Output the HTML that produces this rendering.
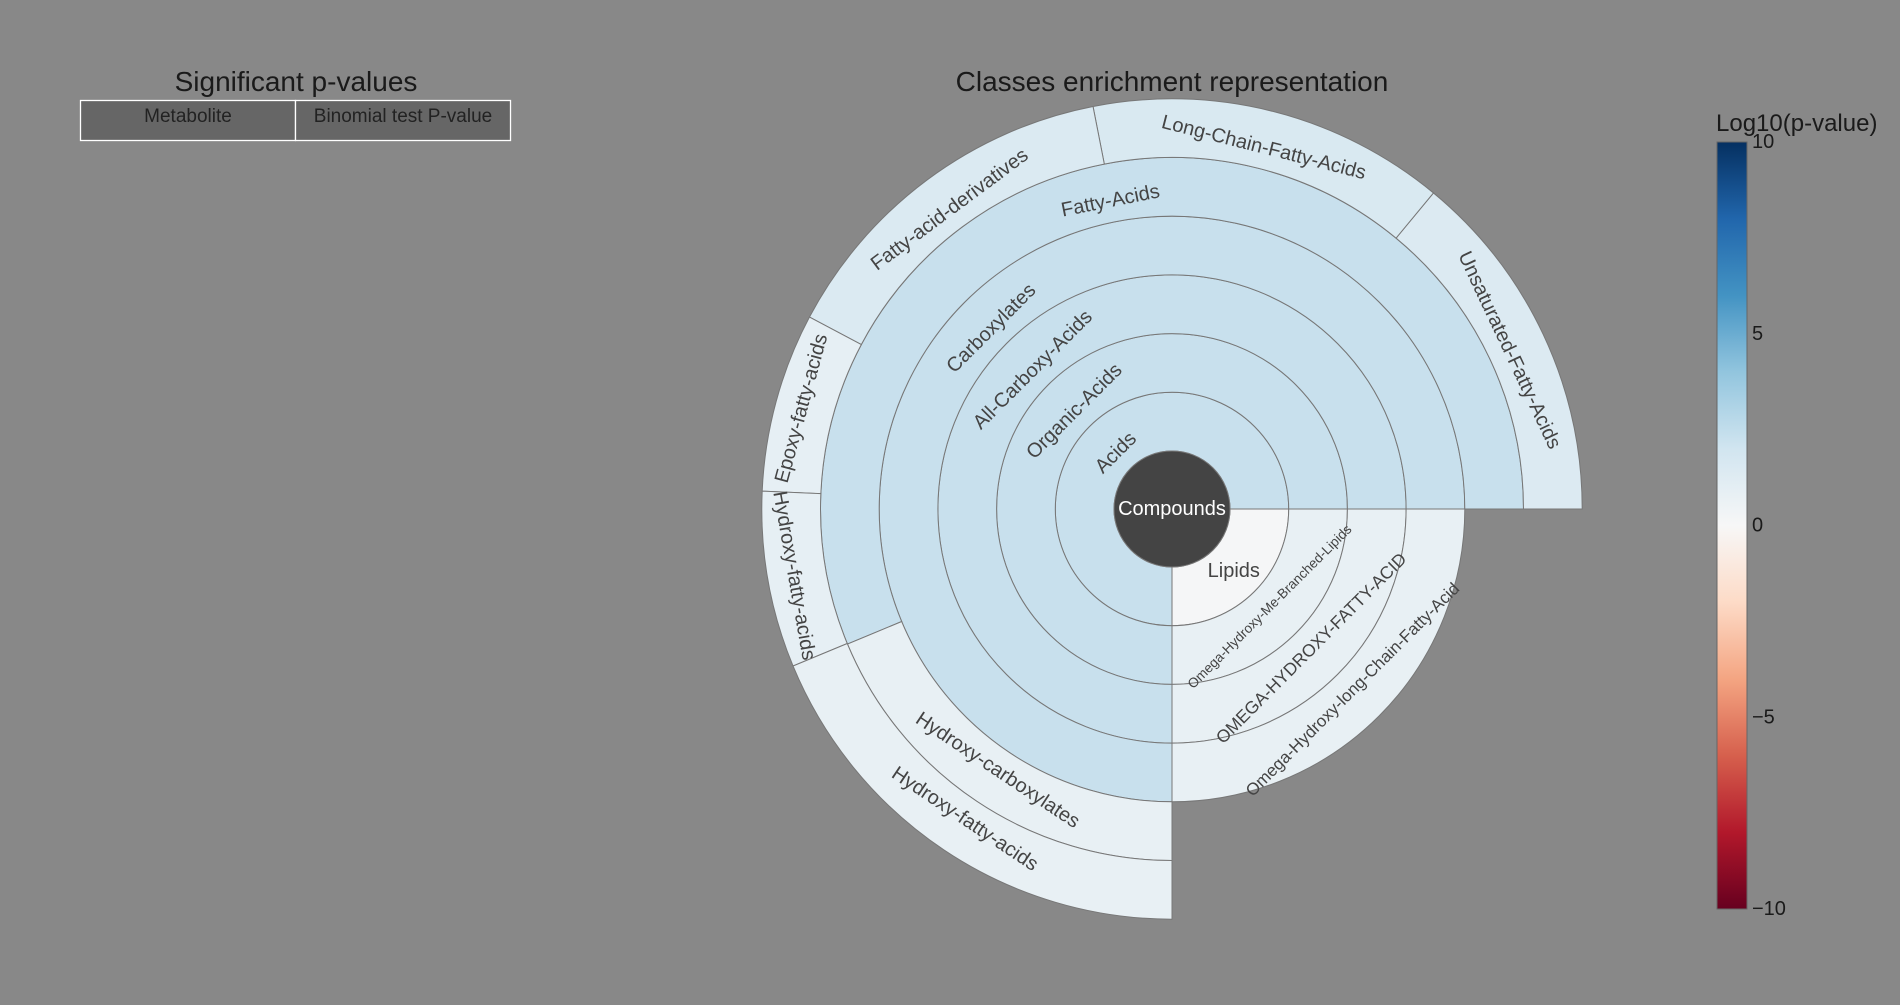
<!DOCTYPE html>
<html><head><meta charset="utf-8">
<style>
html,body{margin:0;padding:0;background:#888888;}
body{width:1900px;height:1000px;position:relative;overflow:hidden;font-family:"Liberation Sans",sans-serif;}
svg text{font-family:"Liberation Sans",sans-serif;}
</style></head>
<body>
<svg id="chart" width="1900" height="1000">
  <text x="296" y="91" font-size="28" fill="#1a1a1a" text-anchor="middle">Significant p-values</text>
  <g>
    <rect x="80.5" y="100.5" width="215" height="40" fill="#666" stroke="#fff" stroke-width="1.3"/>
    <rect x="295.5" y="100.5" width="215" height="40" fill="#666" stroke="#fff" stroke-width="1.3"/>
    <text x="188" y="122" font-size="19" fill="#222" text-anchor="middle">Metabolite</text>
    <text x="403" y="122" font-size="19" fill="#222" text-anchor="middle">Binomial test P-value</text>
  </g>
  <text x="1172" y="91" font-size="28" fill="#1a1a1a" text-anchor="middle">Classes enrichment representation</text>
  <g id="sun"></g>
  <defs>
    <linearGradient id="cb" x1="0" y1="1" x2="0" y2="0">
      <stop offset="0" stop-color="#67001f"/><stop offset="0.1" stop-color="#b2182b"/>
      <stop offset="0.2" stop-color="#d6604d"/><stop offset="0.3" stop-color="#f4a582"/>
      <stop offset="0.4" stop-color="#fddbc7"/><stop offset="0.5" stop-color="#f7f7f7"/>
      <stop offset="0.6" stop-color="#d1e5f0"/><stop offset="0.7" stop-color="#92c5de"/>
      <stop offset="0.8" stop-color="#4393c3"/><stop offset="0.9" stop-color="#2166ac"/>
      <stop offset="1" stop-color="#053061"/>
    </linearGradient>
  </defs>
  <text x="1716" y="131" font-size="24" fill="#1a1a1a">Log10(p-value)</text>
  <rect x="1717" y="142" width="30" height="767" fill="url(#cb)" stroke="#666" stroke-width="1"/>
  <g id="cbticks"></g>
</svg>
<script>
const labels = ["Acids","Lipids","Organic-Acids","Omega-Hydroxy-Me-Branched-Lipids","All-Carboxy-Acids","OMEGA-HYDROXY-FATTY-ACID","Carboxylates","Omega-Hydroxy-long-Chain-Fatty-Acid","Fatty-Acids","Hydroxy-carboxylates","Unsaturated-Fatty-Acids","Long-Chain-Fatty-Acids","Fatty-acid-derivatives","Epoxy-fatty-acids","Hydroxy-fatty-acids","Hydroxy-fatty-acids"];
const ringIdx = [1,1,2,2,3,3,4,4,5,5,6,6,6,6,6,6];
const startDeg = [90,0,90,0,90,0,90,0,157.4,90,309.6,258.9,207.9,182.5,157.5,90];
const endDeg = [360,90,360,90,360,90,360,90,360,157.4,360,309.6,258.9,207.9,182.5,157.5];
const values = [2.3,0.1,2.3,0.8,2.3,0.8,2.3,0.8,2.3,0.8,1.4,1.6,1.5,0.9,0.9,0.8];
const fontSizes = [20,20,20,13.6,20,17.5,20,17,20,20,20,20,20,20,20,20];
const cbTicks = [10,5,0,-5,-10];

const CX=1172, CY=509, R0=58, DR=58.7;
const NS="http://www.w3.org/2000/svg";
const stops=["#67001f","#b2182b","#d6604d","#f4a582","#fddbc7","#f7f7f7","#d1e5f0","#92c5de","#4393c3","#2166ac","#053061"];
function hex(c){return [1,3,5].map(i=>parseInt(c.substr(i,2),16));}
function colorOf(v){let t=(v+10)/20*10;t=Math.max(0,Math.min(10,t));const i=Math.min(9,Math.floor(t));const f=t-i;const a=hex(stops[i]),b=hex(stops[i+1]);return "rgb("+a.map((x,k)=>Math.round(x+(b[k]-x)*f)).join(",")+")";}
function rIn(r){return R0+(r-1)*DR;}
function pt(r,a){const t=a*Math.PI/180;return [CX+r*Math.cos(t),CY+r*Math.sin(t)];}
const g=document.getElementById("sun");
for(let i=0;i<labels.length;i++){
  const r1=rIn(ringIdx[i]), r2=r1+DR, a1=startDeg[i], a2=endDeg[i];
  const large=(a2-a1)>180?1:0;
  const p1=pt(r2,a1),p2=pt(r2,a2),p3=pt(r1,a2),p4=pt(r1,a1);
  const d=`M${p1[0]},${p1[1]} A${r2},${r2} 0 ${large} 1 ${p2[0]},${p2[1]} L${p3[0]},${p3[1]} A${r1},${r1} 0 ${large} 0 ${p4[0]},${p4[1]} Z`;
  const path=document.createElementNS(NS,"path");
  path.setAttribute("d",d);path.setAttribute("fill",colorOf(values[i]));
  path.setAttribute("stroke","#777");path.setAttribute("stroke-width","1");
  
  
  g.appendChild(path);
}
for(let i=0;i<labels.length;i++){
  const r1=rIn(ringIdx[i]), am=(startDeg[i]+endDeg[i])/2;
  let off=-8;
  if(labels[i]==="Lipids") off=0;
  if(am>160&&am<200) off=3;
  const rm = r1+DR/2+off;
  const p=pt(rm,am);
  let rot=am+90; rot=((rot%360)+360)%360; if(rot>90&&rot<270) rot-=180;
  if(labels[i]==="Lipids") rot=0;
  const t=document.createElementNS(NS,"text");
  t.setAttribute("x",p[0]);t.setAttribute("y",p[1]);
  t.setAttribute("text-anchor","middle");t.setAttribute("dominant-baseline","central");
  t.setAttribute("font-size",fontSizes[i]);t.setAttribute("fill","#444");
  t.setAttribute("transform",`rotate(${rot} ${p[0]} ${p[1]})`);
  t.textContent=labels[i];
  
  
  g.appendChild(t);
}
const c=document.createElementNS(NS,"circle");
c.setAttribute("cx",CX);c.setAttribute("cy",CY);c.setAttribute("r",R0);
c.setAttribute("fill","#444");c.setAttribute("stroke","#777");


g.appendChild(c);
const ct=document.createElementNS(NS,"text");
ct.setAttribute("x",CX);ct.setAttribute("y",CY);ct.setAttribute("text-anchor","middle");
ct.setAttribute("dominant-baseline","central");ct.setAttribute("font-size","20");ct.setAttribute("fill","#fff");
ct.textContent="Compounds";


g.appendChild(ct);
const tg=document.getElementById("cbticks");
cbTicks.forEach(v=>{
  const y=909-(v+10)/20*767;
  const t=document.createElementNS(NS,"text");
  t.setAttribute("x",1752);t.setAttribute("y",y);t.setAttribute("dominant-baseline","central");
  t.setAttribute("font-size","20");t.setAttribute("fill","#1a1a1a");
  t.textContent=v<0?"\u2212"+Math.abs(v):String(v);
  
  
  tg.appendChild(t);
});
</script>
</body></html>
